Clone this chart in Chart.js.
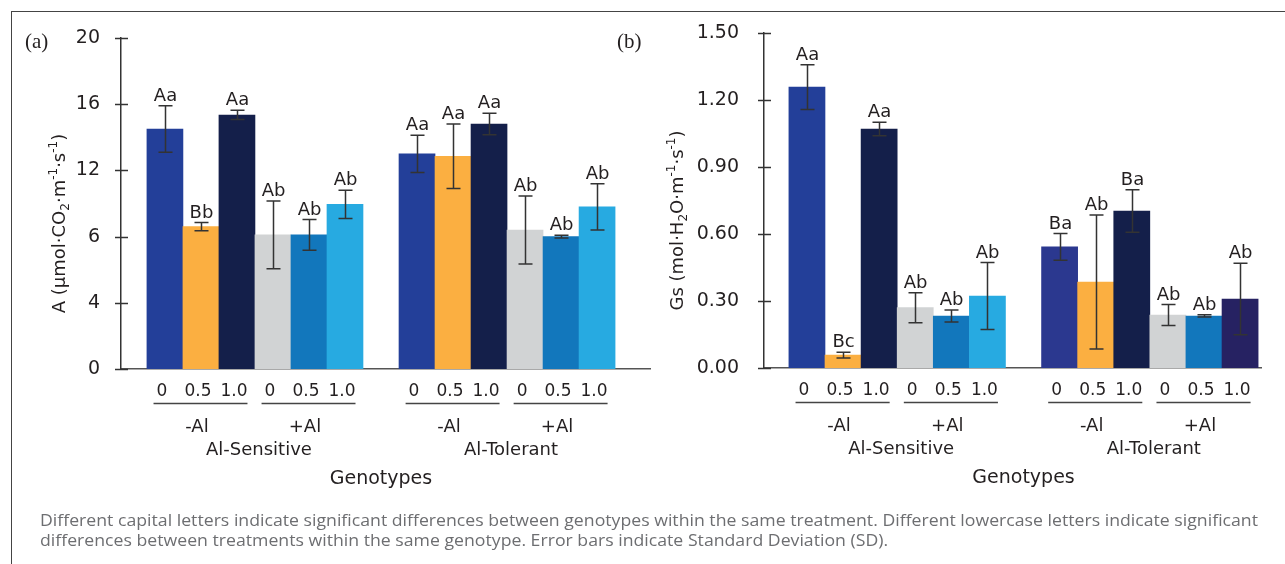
<!DOCTYPE html>
<html>
<head>
<meta charset="utf-8">
<script src="https://cdn.jsdelivr.net/npm/chart.js@4.4.1/dist/chart.umd.min.js"></script>
<style>
body{margin:0;background:#fff;}
#wrap{position:relative;width:1285px;height:564px;overflow:hidden;}
#frame{position:absolute;left:11px;top:11px;width:1300px;height:600px;border-left:1.5px solid #444;border-top:1.5px solid #444;}
canvas{position:absolute;left:0;top:0;}
#note{position:absolute;left:40px;top:510px;font:17px "Open Sans";color:#6d6e71;line-height:20px;white-space:nowrap;transform-origin:0 0;}
</style>
</head>
<body>
<div id="wrap">
  <div id="frame"></div>
  <canvas id="chartA" width="1285" height="564"></canvas>
  <canvas id="chartB" width="1285" height="564"></canvas>
  <div id="note"><span id="line1">Different capital letters indicate significant differences between genotypes within the same treatment. Different lowercase letters indicate significant</span><br>differences between treatments within the same genotype. Error bars indicate Standard Deviation (SD).</div>
</div>
<script>
// categories (blank entry = gap between the two genotypes)
const categories = ['0','0.5','1.0','0','0.5','1.0','','0','0.5','1.0','0','0.5','1.0'];
const treatments = ['-Al','+Al','-Al','+Al'];
const genotypes = ['Al-Sensitive','Al-Tolerant'];

// (a) net photosynthesis
const photoMean = [14.5, 8.6, 15.35, 8.1, 8.1, 9.95, null, 13.0, 12.85, 14.8, 8.4, 8.0, 9.8];
const photoSD = [1.4, 0.25, 0.28, 2.05, 0.93, 0.85, null, 1.12, 1.95, 0.65, 2.05, 0.08, 1.4];
const photoLetters = ['Aa','Bb','Aa','Ab','Ab','Ab','','Aa','Aa','Aa','Ab','Ab','Ab'];
const photoTickValues = [0, 4, 8, 12, 16, 20];
const photoTickLabels = ['0','4','6','12','16','20'];

// (b) stomatal conductance
const gsMean = [1.258, 0.058, 1.07, 0.27, 0.233, 0.322, null, 0.542, 0.385, 0.703, 0.237, 0.233, 0.309];
const gsSD = [0.1, 0.013, 0.03, 0.067, 0.027, 0.15, null, 0.06, 0.3, 0.095, 0.047, 0.005, 0.16];
const gsLetters = ['Aa','Bc','Aa','Ab','Ab','Ab','','Ba','Ab','Ba','Ab','Ab','Ab'];
const gsTickValues = [0, 0.3, 0.6, 0.9, 1.2, 1.5];
const gsTickLabels = ['0.00','0.30','0.60','0.90','1.20','1.50'];

const colorsA = ['#233f99','#fbaf41','#141f4a','#d1d3d4','#1277bc','#27aae1',null,'#233f99','#fbaf41','#141f4a','#d1d3d4','#1277bc','#27aae1'];
const colorsB = ['#233f99','#fbaf41','#141f4a','#d1d3d4','#1277bc','#27aae1',null,'#2b388f','#fbaf41','#141f4a','#d1d3d4','#1277bc','#262262'];

const photoTitle = [['A (µmol·CO',0],['2',1],['·m',0],['-1',-1],['·s',0],['-1',-1],[')',0]];
const gsTitle = [['Gs (mol·H',0],['2',1],['O·m',0],['-1',-1],['·s',0],['-1',-1],[')',0]];

const TXT = '#231f20';
const FONT = '"DejaVu Sans"';

function drawRich(ctx, parts, x, y) {
  ctx.save();
  ctx.translate(x, y);
  ctx.rotate(-Math.PI/2);
  ctx.textAlign = 'left';
  ctx.textBaseline = 'alphabetic';
  var total = 0;
  parts.forEach(function(p){
    ctx.font = (p[1] ? '12px ' : '18px ') + FONT;
    total += ctx.measureText(p[0]).width;
  });
  var cx = -total/2;
  parts.forEach(function(p){
    ctx.font = (p[1] ? '12px ' : '18px ') + FONT;
    var dy = p[1] === 1 ? 10.5 : (p[1] === -1 ? -1.5 : 6.5);
    ctx.fillText(p[0], cx, dy);
    cx += ctx.measureText(p[0]).width;
  });
  ctx.restore();
}

function extras(mean, sd, letters, title, titleDx, panel, panelX) {
  return {
    id: 'extras',
    afterDatasetsDraw: function(chart) {
      var ctx = chart.ctx, xs = chart.scales.x, ys = chart.scales.y, area = chart.chartArea;
      ctx.save();
      // error bars + letters
      ctx.strokeStyle = '#333';
      ctx.lineWidth = 1.5;
      ctx.fillStyle = TXT;
      ctx.font = '18px ' + FONT;
      ctx.textAlign = 'center';
      ctx.textBaseline = 'alphabetic';
      mean.forEach(function(m, i){
        if (m === null) return;
        var px = Math.round(xs.getPixelForValue(i)) + 0.5;
        var top = ys.getPixelForValue(m + sd[i]);
        var bot = ys.getPixelForValue(m - sd[i]);
        ctx.beginPath();
        ctx.moveTo(px, top); ctx.lineTo(px, bot);
        ctx.moveTo(px - 7, top); ctx.lineTo(px + 7, top);
        ctx.moveTo(px - 7, bot); ctx.lineTo(px + 7, bot);
        ctx.stroke();
        ctx.fillText(letters[i], px, top - 5);
      });
      // y ticks crossing the axis
      ctx.strokeStyle = '#333';
      ys.ticks.forEach(function(t){
        var py = Math.round(ys.getPixelForValue(t.value)) + 0.5;
        ctx.beginPath();
        ctx.moveTo(area.left - 6, py); ctx.lineTo(area.left + 7, py);
        ctx.stroke();
      });
      // x axis labels: doses, treatments, genotypes
      var base = area.bottom;
      ctx.textBaseline = 'middle';
      ctx.font = '17px ' + FONT;
      var idx = [];
      categories.forEach(function(c, i){
        if (!c) return;
        idx.push(i);
        ctx.fillText(c, xs.getPixelForValue(i) - 3, base + 23);
      });
      ctx.strokeStyle = '#444';
      for (var k = 0; k < idx.length / 3; k++) {
        var a = idx[3*k], c = idx[3*k + 2], b = idx[3*k + 1];
        ctx.font = '17px ' + FONT;
        var l = xs.getPixelForValue(a) - 3 - ctx.measureText(categories[a]).width / 2 - 3;
        var r = xs.getPixelForValue(c) - 3 + ctx.measureText(categories[c]).width / 2;
        ctx.beginPath();
        ctx.moveTo(l, base + 34.5); ctx.lineTo(r, base + 34.5);
        ctx.stroke();
        ctx.font = '18px ' + FONT;
        ctx.fillText(treatments[k], xs.getPixelForValue(b) - 4, base + 58);
      }
      for (var g = 0; g < genotypes.length; g++) {
        var first = idx[6*g], last = idx[6*g + 5];
        ctx.font = '18px ' + FONT;
        ctx.fillText(genotypes[g], (xs.getPixelForValue(first) + xs.getPixelForValue(last)) / 2 + 4, base + 81);
      }
      ctx.font = '19px ' + FONT;
      ctx.fillText('Genotypes', (xs.getPixelForValue(idx[0]) + xs.getPixelForValue(idx[idx.length - 1])) / 2, base + 110);
      // y title
      drawRich(ctx, title, area.left + titleDx, (area.top + area.bottom) / 2 + 20);
      // panel letter
      ctx.font = '21px "Liberation Serif"';
      ctx.textAlign = 'left';
      ctx.fillText(panel, panelX, 42);
      ctx.restore();
    }
  };
}

function makeChart(id, mean, colors, yMax, tickValues, tickLabels, xMin, xMax, padding, tickPad, plugin) {
  var pts = [], cols = [];
  categories.forEach(function(c, i){
    if (mean[i] === null) return;
    pts.push({x: i, y: mean[i]});
    cols.push(colors[i]);
  });
  return new Chart(document.getElementById(id), {
    type: 'bar',
    data: {
      datasets: [{
        data: pts,
        backgroundColor: cols,
        borderWidth: 0,
        barPercentage: 1,
        categoryPercentage: 1
      }]
    },
    options: {
      responsive: false,
      animation: false,
      layout: { padding: padding },
      plugins: { legend: {display: false}, tooltip: {enabled: false} },
      scales: {
        x: {
          type: 'linear',
          offset: false,
          min: xMin, max: xMax,
          ticks: {display: false},
          grid: {display: false},
          border: {display: true, color: '#555', width: 1.5},
          afterFit: function(s){ s.height = 0; }
        },
        y: {
          min: 0, max: yMax,
          afterBuildTicks: function(s){ s.ticks = tickValues.map(function(v){ return {value: v}; }); },
          ticks: {
            padding: tickPad,
            color: TXT,
            font: {family: 'DejaVu Sans', size: 19},
            callback: function(v, i){ return tickLabels[i]; }
          },
          grid: {display: false},
          border: {display: true, color: '#333', width: 1.5},
          afterFit: function(s){ s.width = 90; }
        }
      }
    },
    plugins: [plugin]
  });
}

makeChart('chartA', photoMean, colorsA, 20, photoTickValues, photoTickLabels, -1.22, 13.47,
  {left: 31, right: 635, top: 38, bottom: 195}, 13,
  extras(photoMean, photoSD, photoLetters, photoTitle, -63, '(a)', 25));

makeChart('chartB', gsMean, colorsB, 1.5, gsTickValues, gsTickLabels, -1.19, 12.58,
  {left: 674, right: 24, top: 33, bottom: 196}, 17,
  extras(gsMean, gsSD, gsLetters, gsTitle, -88, '(b)', 617));

// stretch the note so its first line ends where the reference's does
var note = document.getElementById('note');
var w1 = document.getElementById('line1').getBoundingClientRect().width;
note.style.transform = 'scaleX(' + (1218 / w1) + ')';
</script>
</body>
</html>
